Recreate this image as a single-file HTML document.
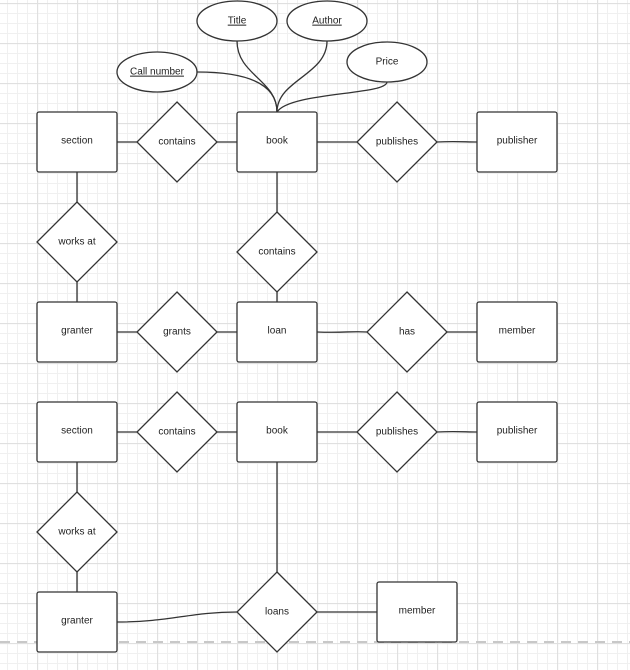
<!DOCTYPE html>
<html><head><style>
html,body{margin:0;padding:0;background:#fff;}
svg{display:block;}
text{font-family:"Liberation Sans",Arial,sans-serif;font-size:10px;fill:#222;text-anchor:middle;dominant-baseline:middle;}
</style></head><body>
<svg width="630" height="670" viewBox="0 0 630 670" xmlns="http://www.w3.org/2000/svg">
<defs>
<pattern id="minor" width="10" height="10" patternUnits="userSpaceOnUse" x="7" y="3">
<path d="M0 0.5H10M0.5 0V10" stroke="#f0f0f0" stroke-width="1" fill="none"/>
</pattern>
<pattern id="major" width="40" height="40" patternUnits="userSpaceOnUse" x="-3" y="3">
<path d="M0 0.5H40M0.5 0V40" stroke="#e0e0e0" stroke-width="1.3" fill="none"/>
</pattern>
</defs>
<rect width="630" height="670" fill="url(#minor)"/>
<rect width="630" height="670" fill="url(#major)"/>
<line x1="0" y1="642" x2="630" y2="642" stroke="#c8c8c8" stroke-width="2" stroke-dasharray="10,7"/>
<g stroke="#333" stroke-width="1.3" fill="none">
<path d="M237 41 C237 75 277 80 277 112"/>
<path d="M327 41 C327 75 277 80 277 112"/>
<path d="M197 72 C250 72 277 85 277 112"/>
<path d="M387 82 C387 95 290 92 277 112"/>
<line x1="117" y1="142" x2="137" y2="142"/><line x1="217" y1="142" x2="237" y2="142"/>
<line x1="317" y1="142" x2="357" y2="142"/><path d="M437 142 C455 141 465 142 477 142"/>
<line x1="77" y1="172" x2="77" y2="202"/><line x1="77" y1="282" x2="77" y2="302"/>
<line x1="277" y1="172" x2="277" y2="212"/><line x1="277" y1="292" x2="277" y2="302"/>
<line x1="117" y1="332" x2="137" y2="332"/><line x1="217" y1="332" x2="237" y2="332"/>
<path d="M317 332 C345 333 350 331 367 332"/><line x1="447" y1="332" x2="477" y2="332"/>
<line x1="117" y1="432" x2="137" y2="432"/><line x1="217" y1="432" x2="237" y2="432"/>
<line x1="317" y1="432" x2="357" y2="432"/><path d="M437 432 C455 431 465 432 477 432"/>
<line x1="77" y1="462" x2="77" y2="492"/><line x1="77" y1="572" x2="77" y2="592"/>
<line x1="277" y1="462" x2="277" y2="572"/>
<path d="M117 622 C170 622 190 612 237 612"/><line x1="317" y1="612" x2="377" y2="612"/>
</g>
<g stroke="#333" stroke-width="1.3" fill="#fff">
<ellipse cx="237" cy="21" rx="40" ry="20"/>
<ellipse cx="327" cy="21" rx="40" ry="20"/>
<ellipse cx="157" cy="72" rx="40" ry="20"/>
<ellipse cx="387" cy="62" rx="40" ry="20"/>
<rect x="37" y="112" width="80" height="60" rx="2"/>
<rect x="237" y="112" width="80" height="60" rx="2"/>
<rect x="477" y="112" width="80" height="60" rx="2"/>
<rect x="37" y="302" width="80" height="60" rx="2"/>
<rect x="237" y="302" width="80" height="60" rx="2"/>
<rect x="477" y="302" width="80" height="60" rx="2"/>
<rect x="37" y="402" width="80" height="60" rx="2"/>
<rect x="237" y="402" width="80" height="60" rx="2"/>
<rect x="477" y="402" width="80" height="60" rx="2"/>
<rect x="37" y="592" width="80" height="60" rx="2"/>
<rect x="377" y="582" width="80" height="60" rx="2"/>
<polygon points="177,102 217,142 177,182 137,142"/>
<polygon points="397,102 437,142 397,182 357,142"/>
<polygon points="77,202 117,242 77,282 37,242"/>
<polygon points="277,212 317,252 277,292 237,252"/>
<polygon points="177,292 217,332 177,372 137,332"/>
<polygon points="407,292 447,332 407,372 367,332"/>
<polygon points="177,392 217,432 177,472 137,432"/>
<polygon points="397,392 437,432 397,472 357,432"/>
<polygon points="77,492 117,532 77,572 37,532"/>
<polygon points="277,572 317,612 277,652 237,612"/>
</g>
<g>
<text x="237" y="21" text-decoration="underline">Title</text>
<text x="327" y="21" text-decoration="underline">Author</text>
<text x="157" y="72" text-decoration="underline">Call number</text>
<text x="387" y="62">Price</text>
<text x="77" y="141">section</text><text x="177" y="142">contains</text>
<text x="277" y="141">book</text><text x="397" y="142">publishes</text><text x="517" y="141">publisher</text>
<text x="77" y="242">works at</text><text x="277" y="252">contains</text>
<text x="77" y="331">granter</text><text x="177" y="332">grants</text><text x="277" y="331">loan</text>
<text x="407" y="332">has</text><text x="517" y="331">member</text>
<text x="77" y="431">section</text><text x="177" y="432">contains</text>
<text x="277" y="431">book</text><text x="397" y="432">publishes</text><text x="517" y="431">publisher</text>
<text x="77" y="532">works at</text>
<text x="77" y="621">granter</text><text x="277" y="612">loans</text><text x="417" y="611">member</text>
</g>
</svg>
</body></html>
